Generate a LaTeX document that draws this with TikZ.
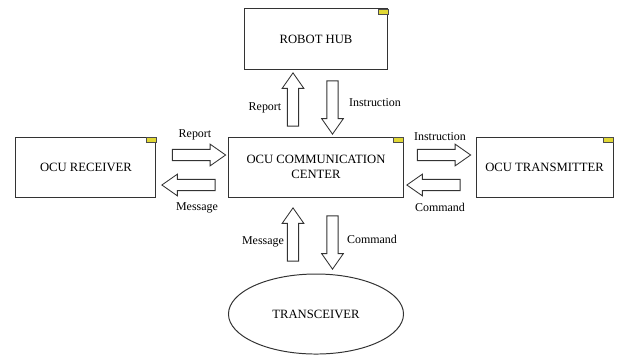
\documentclass[tikz,border=0pt]{standalone}
\usepackage{fontspec}
\setmainfont{Liberation Serif}
\usetikzlibrary{positioning, shapes.arrows, shapes.geometric}

\begin{document}
\begin{tikzpicture}[x=0.025cm, y=-0.025cm,
     node distance = 18mm and 18mm,
        box/.style = {rectangle, draw=black!80, line width=0.7pt, fill=white,
                      minimum height=15mm, align=center,
                      font=\fontsize{9}{10.5}\selectfont},
       oval/.style = {ellipse, draw=black!80, line width=0.7pt,
                      minimum width=43.75mm, minimum height=20mm,
                      font=\fontsize{9}{10.5}\selectfont},
     barrow/.style = {single arrow, draw=black!80, line width=0.6pt, fill=white,
                      inner sep=1.3mm, minimum height=13.3mm,
                      single arrow head extend=1.3mm, single arrow tip angle=70},
        lbl/.style = {inner sep=1pt, font=\fontsize{8.5}{10}\selectfont},
        tab/.style = {draw=black!70, line width=0.4pt, fill=yellow!85!black!90}
                        ]
\useasboundingbox (0,0) rectangle (620,356);
% boxes
\node (occ) [box, minimum width=43.5mm] at (316,167) {OCU COMMUNICATION\\ CENTER};
\node (hub) [box, minimum width=35.75mm, above=16.75mm of occ] {ROBOT HUB};
\node (rcv) [box, minimum width=35mm, left=of occ] {OCU RECEIVER};
\node (tx)  [box, minimum width=34.25mm, right=of occ] {OCU TRANSMITTER};
\node (trx) [oval, below=19mm of occ] {TRANSCEIVER};
% little tabs in the corners
\foreach \n in {hub,rcv,occ,tx}
  \draw[tab] ([xshift=-2.5mm,yshift=-0.3mm]\n.north east) rectangle ([yshift=-1.5mm]\n.north east);
% block arrows
\node (hubup)   [barrow, rotate=90]  at (293,103.5) {};
\node (hubdown) [barrow, rotate=-90] at (332.5,103.5) {};
\node (trxup)   [barrow, rotate=90]  at (293,238.5) {};
\node (trxdown) [barrow, rotate=-90] at (332.5,238.5) {};
\node (rcvin)   [barrow]             at (195,155) {};
\node (rcvout)  [barrow, rotate=180] at (192.5,185) {};
\node (txin)    [barrow]             at (440,155) {};
\node (txout)   [barrow, rotate=180] at (437.5,185) {};
% labels
\node (l1) [lbl] at (265,108) {Report};
\node (l2) [lbl] at (375,103) {Instruction};
\node (l3) [lbl] at (263,242) {Message};
\node (l4) [lbl] at (372,239) {Command};
\node (l5) [lbl] at (195,135) {Report};
\node (l6) [lbl] at (197,208) {Message};
\node (l7) [lbl] at (440,137) {Instruction};
\node (l8) [lbl] at (440,207) {Command};
\end{tikzpicture}
\end{document}
